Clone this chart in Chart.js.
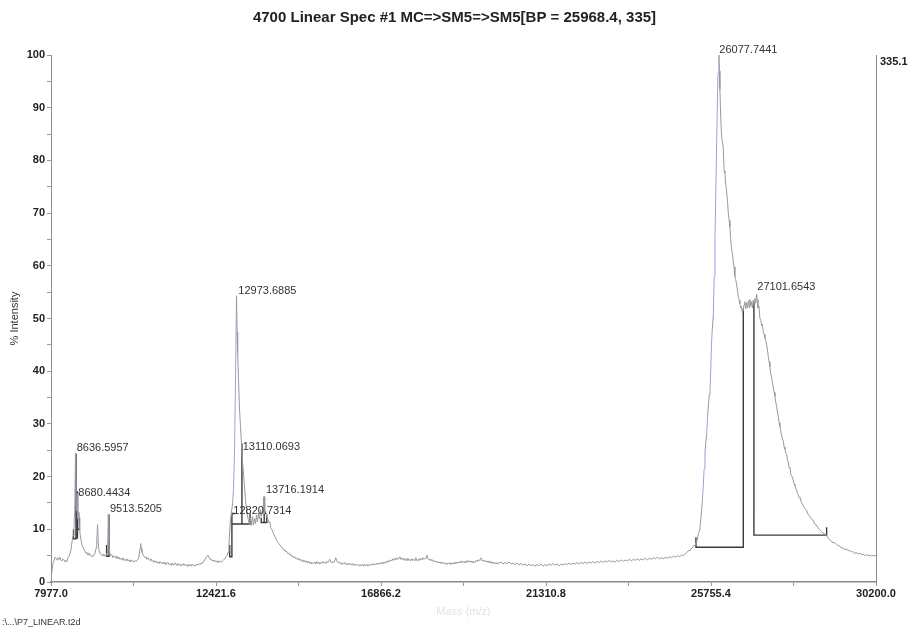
<!DOCTYPE html>
<html>
<head>
<meta charset="utf-8">
<script src="https://cdn.jsdelivr.net/npm/chart.js@4.4.1/dist/chart.umd.min.js"></script>
<style>
  body { margin: 0; background: #fff; }
  #wrap { position: relative; width: 909px; height: 632px; }
  #plik { position: absolute; left: 2px; top: 617px; font: 9px "Liberation Sans", Arial, sans-serif; color: #333; }
</style>
</head>
<body>
<div id="wrap">
  <canvas id="widmo" width="909" height="632"></canvas>
  <div id="plik">:\...\P7_LINEAR.t2d</div>
</div>
<script>
// x axis ticks (mass), every second one is a minor tick
let xTicks = [7977.0, 10199.3, 12421.6, 14643.9, 16866.2, 19088.5, 21310.8, 23533.1, 25755.4, 27977.7, 30200.0];
let xLabels = ['7977.0', '', '12421.6', '', '16866.2', '', '21310.8', '', '25755.4', '', '30200.0'];

// spectrum trace
let specMass = [7977,8004,8031,8058,8085,8112,8139,8165,8192,8219,8246,8273,8300,8327,8354,8381,8408,8435,8462,8489,8516,8543,8570,8595,8615,8637,8652,8668,8683,8698,8712,8731,8745,8765,8790,8815,8839,8866,8893,8920,8947,8974,9001,9028,9055,9082,9108,9135,9162,9190,9210,9232,9250,9270,9297,9324,9351,9378,9405,9432,9459,9486,9505,9520,9535,9555,9580,9610,9647,9675,9701,9728,9755,9782,9809,9836,9863,9890,9916,9943,9970,9997,10024,10051,10078,10105,10132,10159,10186,10213,10240,10267,10300,10330,10355,10375,10393,10410,10428,10455,10482,10509,10536,10563,10590,10617,10644,10671,10698,10725,10752,10779,10805,10832,10859,10886,10913,10940,10967,10994,11021,11048,11075,11102,11129,11156,11183,11210,11236,11263,11290,11317,11344,11371,11398,11425,11452,11479,11506,11533,11560,11587,11614,11641,11667,11694,11721,11748,11775,11802,11829,11856,11883,11910,11937,11964,11991,12018,12044,12071,12098,12125,12152,12179,12206,12233,12260,12287,12314,12341,12368,12395,12422,12449,12475,12502,12529,12556,12583,12610,12637,12664,12691,12718,12745,12770,12790,12812,12839,12866,12893,12920,12947,12974,12990,13005,13028,13054,13081,13108,13135,13162,13190,13217,13243,13270,13297,13324,13351,13378,13405,13432,13459,13486,13513,13540,13567,13594,13621,13648,13675,13700,13716,13735,13760,13788,13815,13842,13869,13896,13923,13950,13977,14004,14031,14058,14085,14112,14139,14166,14193,14220,14247,14274,14301,14328,14355,14382,14409,14436,14462,14489,14516,14543,14570,14597,14624,14651,14678,14705,14731,14758,14785,14812,14839,14866,14893,14920,14947,14974,15001,15028,15055,15082,15109,15136,15163,15190,15217,15244,15271,15298,15325,15351,15378,15405,15432,15459,15486,15513,15540,15567,15594,15621,15648,15675,15702,15729,15755,15782,15809,15836,15863,15890,15917,15944,15971,15998,16025,16052,16079,16106,16133,16160,16186,16213,16240,16267,16294,16321,16348,16375,16402,16429,16456,16483,16510,16537,16564,16591,16617,16644,16671,16698,16725,16752,16779,16806,16833,16860,16887,16914,16941,16968,16995,17022,17048,17075,17102,17129,17156,17183,17210,17237,17264,17291,17318,17345,17372,17399,17426,17453,17480,17507,17534,17561,17588,17615,17642,17669,17696,17723,17750,17777,17804,17831,17858,17885,17912,17939,17966,17993,18020,18047,18074,18100,18127,18154,18181,18208,18235,18262,18289,18316,18343,18370,18397,18424,18451,18478,18505,18532,18559,18586,18613,18640,18667,18694,18721,18748,18775,18802,18829,18856,18883,18910,18937,18964,18991,19018,19045,19072,19099,19126,19153,19180,19207,19234,19261,19288,19315,19342,19369,19396,19423,19450,19477,19504,19531,19558,19585,19612,19639,19666,19693,19720,19747,19774,19801,19828,19855,19882,19909,19936,19963,19990,20017,20044,20098,20152,20206,20260,20314,20368,20422,20476,20530,20584,20638,20692,20746,20800,20854,20908,20962,21016,21070,21124,21178,21232,21286,21340,21394,21448,21502,21556,21610,21664,21718,21772,21826,21880,21934,21988,22042,22096,22150,22204,22258,22312,22366,22420,22474,22528,22582,22636,22690,22744,22798,22852,22906,22960,23014,23068,23122,23176,23230,23284,23338,23392,23446,23500,23554,23608,23662,23716,23770,23824,23878,23932,23986,24040,24094,24148,24202,24256,24310,24364,24418,24472,24526,24580,24634,24688,24742,24796,24850,24904,24958,25012,25066,25109,25150,25190,25230,25270,25300,25324,25350,25378,25400,25418,25440,25459,25480,25499,25520,25548,25570,25593,25615,25639,25665,25688,25710,25728,25750,25768,25790,25817,25840,25863,25885,25909,25930,25944,25968,25982,25995,26018,26041,26062,26084,26110,26130,26152,26175,26200,26224,26245,26264,26285,26305,26330,26353,26375,26399,26420,26445,26470,26493,26515,26534,26555,26574,26600,26623,26645,26669,26690,26715,26740,26763,26785,26803,26825,26844,26870,26892,26915,26938,26960,26984,27000,27019,27045,27073,27100,27120,27140,27162,27185,27207,27230,27253,27280,27302,27320,27342,27360,27383,27410,27431,27455,27477,27500,27523,27550,27572,27590,27612,27635,27652,27680,27701,27725,27747,27770,27793,27815,27841,27860,27882,27900,27922,27945,27970,27995,28016,28040,28062,28085,28111,28130,28151,28190,28232,28280,28331,28375,28420,28460,28509,28550,28595,28640,28689,28730,28770,28820,28870,28915,28959,29000,29040,29090,29139,29180,29228,29270,29309,29360,29409,29450,29498,29540,29579,29625,29673,29720,29767,29810,29848,29900,29942,29990,30037,30080,30118,30160,30200];
let specIntensity = [0.3,2.2,3.6,4.0,4.7,4.5,4.2,4.6,4.3,4.7,4.1,4.0,4.4,4.2,3.8,4.1,3.9,4.6,4.9,5.4,6.1,7.6,8.8,10.2,13.5,24.3,15.0,13.6,16.8,12.0,12.6,13.2,10.3,8.9,7.8,7.0,6.6,6.2,5.8,5.4,5.6,5.1,5.5,5.0,5.1,4.8,5.0,5.1,5.4,6.4,8.0,10.9,7.5,6.0,5.5,5.2,5.0,5.3,4.9,5.2,5.0,5.5,7.8,12.8,7.0,5.6,5.0,5.2,4.6,5.0,4.8,4.5,4.9,4.4,4.7,4.3,4.5,4.2,4.6,4.1,4.3,4.0,4.4,4.0,4.2,3.8,4.2,3.9,4.0,3.8,4.1,3.9,4.1,4.4,5.2,6.4,7.3,6.3,5.6,5.2,4.9,4.6,4.8,4.3,4.6,4.2,4.1,4.4,3.9,4.1,3.7,4.0,3.9,3.6,3.8,3.5,3.9,3.6,3.5,3.8,3.4,3.7,3.3,3.6,3.7,3.3,3.5,3.2,3.6,3.3,3.2,3.6,3.4,3.1,3.5,3.2,3.4,3.0,3.3,3.5,3.1,3.4,3.2,3.0,3.4,3.1,3.3,3.0,3.4,3.2,3.0,3.3,3.1,3.4,3.2,3.5,3.3,3.6,3.5,3.8,3.9,4.3,4.6,4.9,5.1,4.6,4.3,4.4,4.0,4.2,3.9,4.1,3.8,4.0,3.7,3.9,4.0,3.8,3.9,4.1,4.3,4.4,4.8,5.0,5.6,7.0,9.5,11.8,13.2,14.8,17.5,24.5,38.5,54.3,47.5,43.5,38.5,33.0,29.5,26.4,23.0,20.5,18.0,15.5,13.8,12.6,11.6,10.9,12.2,10.7,12.4,10.8,12.0,11.1,12.7,11.4,13.1,12.0,13.7,12.5,13.4,14.8,16.2,13.0,13.4,12.3,12.0,11.3,11.5,10.3,10.0,9.6,9.0,8.7,8.3,7.9,7.5,7.3,7.0,6.9,6.5,6.4,6.0,6.1,5.7,5.8,5.4,5.5,5.1,5.2,4.8,5.0,4.6,4.8,4.4,4.6,4.2,4.5,4.1,4.3,3.9,4.2,3.8,4.1,3.7,4.0,3.6,3.9,3.5,3.8,3.4,3.7,3.5,3.8,3.4,3.9,3.5,3.8,3.4,3.7,3.5,3.9,3.6,3.8,3.5,3.9,3.7,4.0,4.3,3.8,3.6,3.9,3.7,4.0,4.6,4.0,3.7,3.8,3.5,3.7,3.3,3.6,3.4,3.7,3.3,3.5,3.2,3.6,3.3,3.5,3.2,3.5,3.1,3.4,3.2,3.4,3.1,3.3,3.0,3.3,3.1,3.4,3.0,3.3,3.1,3.4,3.0,3.3,3.1,3.4,3.2,3.5,3.2,3.5,3.3,3.6,3.3,3.6,3.4,3.7,3.4,3.8,3.5,3.8,3.6,4.0,3.7,4.1,3.9,4.2,4.0,4.4,4.1,4.5,4.2,4.6,4.3,4.4,4.8,4.3,4.6,4.2,4.5,4.1,4.4,4.0,4.5,4.1,4.3,4.0,4.4,4.1,4.3,4.0,4.6,4.1,4.0,4.4,4.1,4.5,4.2,4.6,4.3,4.5,4.4,5.1,4.5,4.2,4.4,4.0,4.3,3.9,4.1,3.8,4.0,3.7,3.9,3.6,3.8,3.5,3.8,3.5,3.7,3.4,3.6,3.3,3.6,3.4,3.7,3.3,3.6,3.4,3.7,3.4,3.8,3.5,3.8,3.6,3.9,3.6,4.0,3.7,3.9,3.6,4.0,3.7,4.1,3.8,4.0,3.7,4.0,3.6,3.9,3.7,4.1,3.9,4.2,4.0,4.3,4.6,4.0,4.2,3.9,4.1,3.8,4.0,3.7,4.0,3.6,3.9,3.5,3.8,3.5,3.7,3.4,3.7,3.4,3.6,3.8,3.4,3.7,3.5,3.8,3.4,3.6,3.3,3.6,3.2,3.5,3.2,3.4,3.1,3.4,3.1,3.3,3.0,3.3,3.1,3.4,3.0,3.3,3.1,3.4,3.2,3.5,3.2,3.4,3.1,3.4,3.2,3.5,3.3,3.6,3.3,3.6,3.4,3.7,3.4,3.7,3.5,3.8,3.5,3.8,3.6,3.9,3.6,3.9,3.7,4.0,3.7,4.0,3.8,4.1,3.8,4.0,3.8,4.1,3.9,4.2,3.9,4.2,4.0,4.3,4.0,4.3,4.1,4.4,4.1,4.4,4.2,4.5,4.2,4.5,4.3,4.6,4.4,4.7,4.4,4.6,4.4,4.7,4.5,4.8,4.6,4.9,4.7,5.0,4.8,5.1,5.0,5.4,5.6,6.0,5.9,6.4,6.6,7.0,6.9,7.4,7.8,8.6,9.2,9.8,10.4,11.8,13.2,15.3,18.2,21.5,24.5,26.6,28.0,31.5,33.8,35.5,36.2,40.5,45.0,48.0,50.5,58.0,65.0,74.0,84.0,92.0,96.5,100.0,97.0,93.5,88.0,84.5,83.5,82.6,78.0,77.6,75.5,74.3,72.2,69.8,68.6,67.4,65.0,63.5,62.3,61.0,59.8,58.0,57.4,56.5,55.2,54.0,53.5,52.8,52.0,52.3,51.1,51.5,52.6,53.2,51.8,53.0,52.0,53.4,52.1,53.6,52.4,53.2,52.0,53.5,52.6,53.8,53.0,54.6,53.6,52.0,52.4,50.0,49.6,48.6,48.9,47.6,47.0,46.3,45.8,45.0,43.8,42.6,41.8,40.8,39.7,38.9,37.9,37.0,36.0,35.2,34.1,33.3,32.0,31.3,30.2,29.5,28.7,28.0,27.1,26.8,25.6,25.2,24.4,24.3,23.2,22.6,21.7,21.8,20.6,20.2,19.9,19.3,18.6,18.3,17.8,17.4,16.8,16.5,16.0,16.1,15.1,14.6,14.0,13.6,12.8,12.4,12.0,11.7,11.0,10.8,10.2,9.9,9.6,9.3,9.1,8.8,8.3,8.0,7.8,7.4,7.5,7.1,6.9,6.8,6.4,6.5,6.1,6.3,5.9,6.0,5.7,5.8,5.4,5.6,5.3,5.5,5.2,5.3,5.0,5.2,5.0,5.1,4.9,5.1,4.9,5.1];

// peak markers (baseline brackets), null value = break between pieces
let markMass = [8583,8583,8650,8650,8650, 8690,8690,8690, 8690,8745,8745,8745, 9475,9475,9540,9540,9540, 12790,12790,12850,12850,12940,12940, 12850,13340,13340,13340, 13120,13120,13120, 13640,13640,13790,13790,13790, 13720,13720,13720, 25350,25350,26625,26625,26625, 26912,26912,28870,28870];
let markValue = [10.0,8.2,8.2,24.4,null, 17.2,8.2,null, 10.0,10.0,12.2,null, 7.0,4.9,4.9,12.8,null, 7.0,4.8,4.8,13.0,13.0,null, 11.0,11.0,13.0,null, 26.3,11.0,null, 12.2,11.3,11.3,12.8,null, 16.2,11.3,null, 8.5,6.6,6.6,52.0,null, 53.2,8.9,8.9,10.4];

// peak labels
let peakLabels = ['8636.5957', '8680.4434', '9513.5205', '12973.6885', '13110.0693', '12820.7314', '13716.1914', '26077.7441', '27101.6543'];
let labelMass = [8669, 8712, 9566, 13022, 13141, 12888, 13768, 25979, 27002];
let labelValue = [25.5, 16.9, 13.9, 55.3, 25.7, 13.5, 17.4, 100.9, 56.0];

let fontName = '"Liberation Sans", Arial, sans-serif';

let spectrumPoints = specMass.map(function (m, i) { return { x: m, y: specIntensity[i] }; });
let markerPoints = markMass.map(function (m, i) { return { x: m, y: markValue[i] }; });

// draws the peak mass labels next to the peaks
const peakLabelPlugin = {
    id: 'peakLabels',
    afterDatasetsDraw: function (chart) {
        let ctx = chart.ctx;
        let sx = chart.scales.x;
        let sy = chart.scales.y;
        ctx.save();
        ctx.font = '11px ' + fontName;
        ctx.fillStyle = '#333';
        ctx.textAlign = 'left';
        ctx.textBaseline = 'middle';
        for (let i = 0; i < peakLabels.length; i++) {
            ctx.fillText(peakLabels[i], sx.getPixelForValue(labelMass[i]), sy.getPixelForValue(labelValue[i]));
        }
        ctx.restore();
    }
};

const ctxWidmo = document.getElementById('widmo').getContext('2d');

const widmoChart = new Chart(ctxWidmo, {
    type: 'line',
    data: {
        datasets: [
            {
                label: 'spectrum',
                data: spectrumPoints,
                borderColor: '#999999',
                borderWidth: 1,
                pointRadius: 0,
                tension: 0,
                segment: {
                    borderColor: function (c) {
                        return (c.p1.parsed.y - c.p0.parsed.y) > 2.5 ? '#a39cdc' : undefined;
                    }
                }
            },
            {
                label: 'markers',
                data: markerPoints,
                borderColor: '#3a3a3a',
                borderWidth: 1.4,
                pointRadius: 0,
                tension: 0,
                spanGaps: false
            }
        ]
    },
    options: {
        responsive: false,
        animation: false,
        layout: { padding: { left: 0, right: 0, top: 0, bottom: 0 } },
        plugins: {
            legend: { display: false },
            tooltip: { enabled: false },
            title: {
                display: true,
                text: '4700 Linear Spec #1 MC=>SM5=>SM5[BP = 25968.4, 335]',
                color: '#222',
                font: { family: fontName, size: 15, weight: 'bold' },
                padding: { top: 9, bottom: 28 }
            }
        },
        scales: {
            x: {
                type: 'linear',
                min: 7977,
                max: 30200,
                afterBuildTicks: function (axis) {
                    axis.ticks = xTicks.map(function (v) { return { value: v }; });
                },
                afterFit: function (axis) { axis.height = 50; },
                ticks: {
                    autoSkip: false,
                    maxRotation: 0,
                    padding: 1,
                    color: '#222',
                    font: { family: fontName, size: 11, weight: 'bold' },
                    callback: function (value, index) { return xLabels[index]; }
                },
                grid: { drawOnChartArea: false, tickLength: 4, color: '#999' },
                border: { color: '#8a8a8a', width: 1.5 },
                title: {
                    display: true,
                    text: 'Mass (m/z)',
                    color: '#e2e2ea',
                    font: { family: fontName, size: 11 },
                    padding: { top: 0, bottom: 13 }
                }
            },
            y: {
                min: 0,
                max: 100,
                afterFit: function (axis) { axis.width = 51; },
                ticks: {
                    stepSize: 5,
                    padding: 2,
                    color: '#222',
                    font: { family: fontName, size: 11, weight: 'bold' },
                    callback: function (value) { return value % 10 === 0 ? value : ''; }
                },
                grid: { drawOnChartArea: false, tickLength: 4, color: '#999' },
                border: { color: '#8a8a9a', width: 1 },
                title: {
                    display: true,
                    text: '% Intensity',
                    color: '#333',
                    font: { family: fontName, size: 11 },
                    padding: { top: 8, bottom: 0 }
                }
            },
            y2: {
                position: 'right',
                min: 0,
                max: 335.1,
                afterBuildTicks: function (axis) { axis.ticks = [{ value: 335.1 }]; },
                afterFit: function (axis) { axis.width = 33; },
                ticks: {
                    padding: 4,
                    labelOffset: 7,
                    color: '#222',
                    font: { family: fontName, size: 11, weight: 'bold' },
                    callback: function (value) { return value.toFixed(1); }
                },
                grid: { drawOnChartArea: false, tickLength: 0 },
                border: { color: '#8a8a8a', width: 1 }
            }
        }
    },
    plugins: [peakLabelPlugin]
});
</script>
</body>
</html>
